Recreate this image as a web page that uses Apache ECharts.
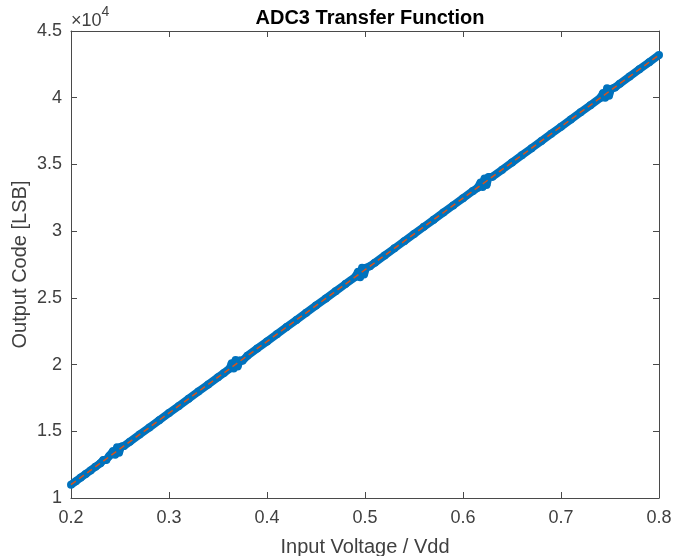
<!DOCTYPE html>
<html>
<head>
<meta charset="utf-8">
<script src="https://cdn.jsdelivr.net/npm/echarts@6/dist/echarts.min.js"></script>
<style>
  html, body { margin: 0; padding: 0; background: #fff; }
  #chart { width: 675px; height: 556px; }
</style>
</head>
<body>
<div id="chart"></div>
<script>
var vin = [0.200, 0.205, 0.210, 0.215, 0.220, 0.225, 0.230, 0.233, 0.236, 0.239,
  0.243, 0.245, 0.247, 0.249, 0.251, 0.254, 0.260, 0.270, 0.280, 0.290, 0.300,
  0.310, 0.320, 0.330, 0.340, 0.350, 0.356, 0.362, 0.364, 0.366, 0.368, 0.370, 0.372, 0.375,
  0.380, 0.390, 0.400, 0.410, 0.420, 0.430, 0.440, 0.450, 0.460, 0.470, 0.480,
  0.490, 0.493, 0.495, 0.497, 0.499, 0.501, 0.505, 0.510, 0.520, 0.530, 0.540,
  0.550, 0.560, 0.570, 0.580, 0.590, 0.600, 0.610, 0.615, 0.618, 0.620, 0.622, 0.624, 0.626,
  0.630, 0.640, 0.650, 0.660, 0.670, 0.680, 0.690, 0.700, 0.710, 0.720, 0.730,
  0.740, 0.743, 0.745, 0.747, 0.749, 0.751, 0.755, 0.760, 0.770, 0.780, 0.790, 0.800];
var code = [11000, 11260, 11540, 11800, 12070, 12350, 12610, 12850, 12850, 13150,
  13520, 13250, 13800, 13400, 13850, 13900, 14220, 14760, 15290, 15830, 16370,
  16900, 17440, 17980, 18510, 19050, 19370, 19700, 20100, 19700, 20350, 19850, 20300, 20290,
  20660, 21200, 21730, 22270, 22810, 23340, 23880, 24420, 24950, 25490, 26030,
  26560, 26950, 26550, 27250, 26750, 27250, 27370, 27640, 28170, 28710, 29250,
  29780, 30320, 30860, 31390, 31930, 32470, 33000, 33250, 33650, 33300, 33950, 33450, 34050,
  34080, 34610, 35150, 35690, 36220, 36760, 37300, 37830, 38370, 38910, 39440,
  39980, 40350, 40000, 40700, 40150, 40650, 40760, 41050, 41590, 42130, 42660, 43200];
// linear fit end points
var fitX = [0.2, 0.8];
var fitY = [11000, 43200];

var chart = echarts.init(document.getElementById('chart'));
var font = '"Liberation Sans", Arial, Helvetica, sans-serif';
var axCol = '#4a4a4a';
var lblCol = '#404040';

var pts = [];
for (var i = 0; i < vin.length; i++) pts.push([vin[i], code[i] / 1e4]);
var fit = [];
for (var j = 0; j < fitX.length; j++) fit.push([fitX[j], fitY[j] / 1e4]);

function xa(pos, show) {
  return {
    type: 'value', position: pos, min: 0.2, max: 0.8, interval: 0.1,
    axisLine: { show: true, onZero: false, lineStyle: { color: axCol, width: 1 } },
    axisTick: { show: true, inside: true, length: 6, lineStyle: { color: axCol } },
    axisLabel: { show: show, color: lblCol, fontFamily: font, fontSize: 18, margin: 11,
      formatter: function (v) { return v.toFixed(1); } },
    splitLine: { show: false }
  };
}
function ya(pos, show) {
  return {
    type: 'value', position: pos, min: 1, max: 4.5, interval: 0.5,
    axisLine: { show: true, onZero: false, lineStyle: { color: axCol, width: 1 } },
    axisTick: { show: true, inside: true, length: 6, lineStyle: { color: axCol } },
    axisLabel: { show: show, color: lblCol, fontFamily: font, fontSize: 18, margin: 9 },
    splitLine: { show: false }
  };
}

var x0 = xa('bottom', true);
x0.name = 'Input Voltage / Vdd';
x0.nameLocation = 'middle';
x0.nameGap = 39;
x0.nameTextStyle = { color: lblCol, fontFamily: font, fontSize: 20 };
var y0 = ya('left', true);
y0.name = 'Output Code [LSB]';
y0.nameLocation = 'middle';
y0.nameGap = 41;
y0.nameMoveOverlap = false;
y0.nameTextStyle = { color: lblCol, fontFamily: font, fontSize: 20 };

chart.setOption({
  animation: false,
  title: {
    text: 'ADC3 Transfer Function', left: 365, top: 3, textAlign: 'center',
    textStyle: { fontFamily: font, fontSize: 20, fontWeight: 'bold', color: '#000' }
  },
  grid: { left: 71, right: 16, top: 31, bottom: 58, outerBoundsMode: 'none', containLabel: false },
  xAxis: [x0, xa('top', false)],
  yAxis: [y0, ya('right', false)],
  graphic: [{
    type: 'text', left: 71, top: 5,
    style: {
      text: '{a|\u00d710}{b|4}',
      rich: {
        a: { fontFamily: font, fontSize: 18, fill: lblCol, padding: [7, 0, 0, 0] },
        b: { fontFamily: font, fontSize: 14, fill: lblCol, verticalAlign: 'top' }
      }
    }
  }],
  series: [{
    type: 'line', data: pts, xAxisIndex: 0, yAxisIndex: 0,
    symbol: 'circle', symbolSize: 8, showSymbol: true,
    lineStyle: { color: '#0072BD', width: 8 },
    itemStyle: { color: '#0072BD' },
    z: 2
  }, {
    type: 'line', data: fit, xAxisIndex: 0, yAxisIndex: 0,
    symbol: 'none',
    lineStyle: { color: '#D95319', width: 1.5, type: [6, 4] },
    z: 3
  }]
});
</script>
</body>
</html>
